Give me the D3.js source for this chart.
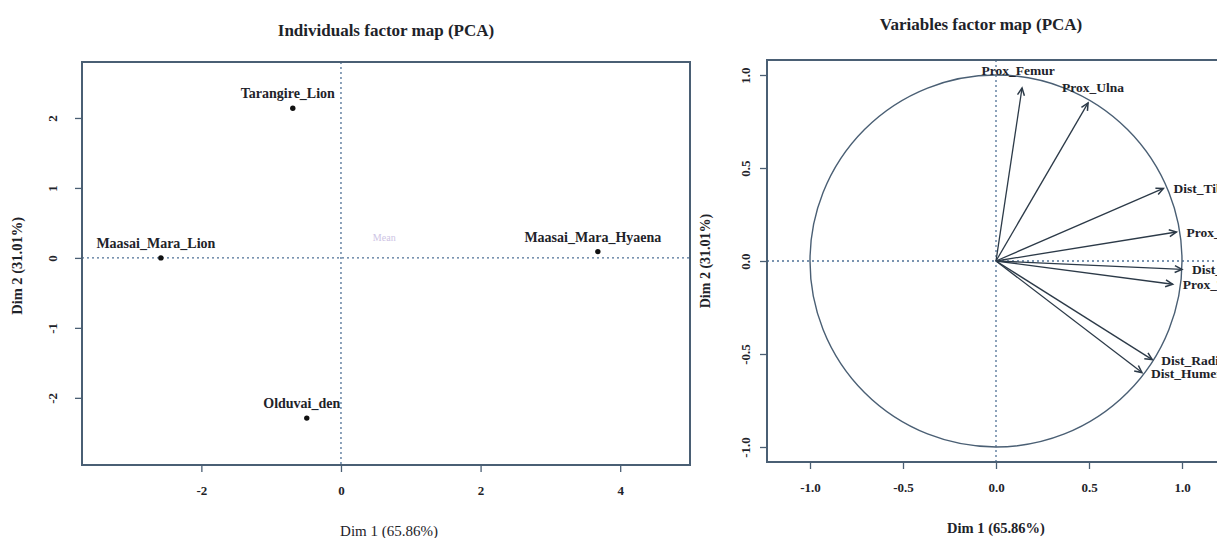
<!DOCTYPE html>
<html>
<head>
<meta charset="utf-8">
<script src="https://cdn.jsdelivr.net/npm/d3@7"></script>
<style>
  body { margin: 0; background: #fff; }
  svg { display: block; font-family: "Liberation Serif", "DejaVu Serif", serif; }
  .tick line { stroke: #4a5f74; stroke-width: 1.3; }
</style>
</head>
<body>
<svg id="chart" width="1217" height="538"></svg>
<script>
// Individuals (PCA coordinates)
const individuals = ['Tarangire_Lion', 'Maasai_Mara_Lion', 'Maasai_Mara_Hyaena', 'Olduvai_den'];
const indDim1 = [-0.69, -2.58, 3.68, -0.49];
const indDim2 = [2.14, 0.0, 0.09, -2.29];

// Variables (correlations with dims)
const variables = ['Prox_Femur', 'Prox_Ulna', 'Dist_Tibia', 'Prox_Radius', 'Dist_Femur', 'Prox_Tibia', 'Dist_Radius', 'Dist_Humerus'];
const varDim1 = [0.14, 0.495, 0.90, 0.97, 1.00, 0.95, 0.84, 0.785];
const varDim2 = [0.93, 0.85, 0.39, 0.156, -0.045, -0.125, -0.53, -0.60];

const indTicksX = [-2, 0, 2, 4];
const indTicksY = [-2, -1, 0, 1, 2];
const varTicks = [-1.0, -0.5, 0.0, 0.5, 1.0];

const dimLabel1 = 'Dim 1 (65.86%)';
const dimLabel2 = 'Dim 2 (31.01%)';

const lineCol = '#4a5f74';
const textCol = '#1e2329';
const serif = '"Liberation Serif", "DejaVu Serif", serif';

const svg = d3.select('#chart');

// style tick labels (d3 sets sans-serif on the axis group)
function styleAxis(sel) {
    sel.attr('font-family', serif).attr('font-size', 13);
    sel.select('.domain').remove();
    sel.selectAll('.tick text').attr('fill', textCol).attr('font-weight', 'bold');
}

// ---------- Individuals factor map ----------
function drawIndividuals() {
    const box = { left: 82, right: 690, top: 62, bottom: 465 };
    const x = d3.scaleLinear().domain([-3.71, 5.0]).range([box.left, box.right]);
    const y = d3.scaleLinear().domain([-2.96, 2.8]).range([box.bottom, box.top]);
    const g = svg.append('g');

    // dotted axes through origin
    g.append('line')
        .attr('x1', box.left).attr('x2', box.right)
        .attr('y1', y(0)).attr('y2', y(0))
        .attr('stroke', '#4f7196').attr('stroke-width', 1.3).attr('stroke-dasharray', '2,3');
    g.append('line')
        .attr('x1', x(0)).attr('x2', x(0))
        .attr('y1', box.top).attr('y2', box.bottom)
        .attr('stroke', '#4f7196').attr('stroke-width', 1.3).attr('stroke-dasharray', '2,3');

    // faint supplementary label
    g.append('text')
        .attr('x', x(0.62)).attr('y', y(0.24))
        .attr('text-anchor', 'middle')
        .attr('font-size', 10).attr('fill', '#cdc4e4')
        .text('Mean');

    const idx = d3.range(individuals.length);
    g.selectAll('circle.ind')
        .data(idx)
        .enter().append('circle')
        .attr('class', 'ind')
        .attr('cx', i => x(indDim1[i]))
        .attr('cy', i => y(indDim2[i]))
        .attr('r', 2.7)
        .attr('fill', '#111');

    g.selectAll('text.ind')
        .data(idx)
        .enter().append('text')
        .attr('class', 'ind')
        .attr('x', i => x(indDim1[i]) - 5)
        .attr('y', i => y(indDim2[i]) - 10)
        .attr('text-anchor', 'middle')
        .attr('font-size', 14)
        .attr('font-weight', 'bold')
        .attr('fill', textCol)
        .text(i => individuals[i]);

    // box
    g.append('rect')
        .attr('x', box.left).attr('y', box.top)
        .attr('width', box.right - box.left).attr('height', box.bottom - box.top)
        .attr('fill', 'none').attr('stroke', lineCol).attr('stroke-width', 2);

    // axes
    g.append('g')
        .attr('transform', `translate(0,${box.bottom})`)
        .call(d3.axisBottom(x).tickValues(indTicksX).tickSize(7).tickPadding(14)
            .tickFormat(d => String(d).replace('\u2212', '-')))
        .call(styleAxis);

    const ay = g.append('g')
        .attr('transform', `translate(${box.left},0)`)
        .call(d3.axisLeft(y).tickValues(indTicksY).tickSize(7).tickPadding(0)
            .tickFormat(d => String(d).replace('\u2212', '-')))
        .call(styleAxis);
    ay.selectAll('.tick text')
        .attr('transform', 'translate(-30,0) rotate(-90)')
        .attr('x', 0).attr('dy', '0.35em')
        .attr('text-anchor', 'middle');

    // titles
    g.append('text')
        .attr('x', (box.left + box.right) / 2).attr('y', 36)
        .attr('text-anchor', 'middle').attr('font-size', 17).attr('font-weight', 'bold')
        .attr('fill', textCol)
        .text('Individuals factor map (PCA)');
    g.append('text')
        .attr('x', 389).attr('y', 536)
        .attr('text-anchor', 'middle').attr('font-size', 15).attr('fill', textCol)
        .text(dimLabel1);
    g.append('text')
        .attr('transform', `translate(22,${y(0) + 8}) rotate(-90)`)
        .attr('text-anchor', 'middle').attr('font-size', 14.5).attr('font-weight', 'bold')
        .attr('fill', textCol)
        .text(dimLabel2);
}

// ---------- Variables factor map ----------
function drawVariables() {
    const box = { left: 767, right: 1240, top: 60, bottom: 462 };
    const unit = 186;
    const cx = 996, cy = 261;
    const x = d3.scaleLinear().domain([(box.left - cx) / unit, (box.right - cx) / unit]).range([box.left, box.right]);
    const y = d3.scaleLinear().domain([(cy - box.bottom) / unit, (cy - box.top) / unit]).range([box.bottom, box.top]);
    const g = svg.append('g');

    g.append('line')
        .attr('x1', box.left).attr('x2', box.right)
        .attr('y1', y(0)).attr('y2', y(0))
        .attr('stroke', '#4f7196').attr('stroke-width', 1.3).attr('stroke-dasharray', '2,3');
    g.append('line')
        .attr('x1', x(0)).attr('x2', x(0))
        .attr('y1', box.top).attr('y2', box.bottom)
        .attr('stroke', '#4f7196').attr('stroke-width', 1.3).attr('stroke-dasharray', '2,3');

    // correlation circle
    g.append('circle')
        .attr('cx', x(0)).attr('cy', y(0))
        .attr('r', x(1) - x(0))
        .attr('fill', 'none').attr('stroke', lineCol).attr('stroke-width', 1.4);

    const idx = d3.range(variables.length);
    const arrows = g.selectAll('g.arrow')
        .data(idx)
        .enter().append('g')
        .attr('class', 'arrow');

    arrows.append('line')
        .attr('x1', x(0)).attr('y1', y(0))
        .attr('x2', i => x(varDim1[i])).attr('y2', i => y(varDim2[i]))
        .attr('stroke', '#2c3a48').attr('stroke-width', 1.3);

    // arrow heads (open, like R arrows())
    arrows.append('path')
        .attr('d', i => {
            const x2 = x(varDim1[i]), y2 = y(varDim2[i]);
            const a = Math.atan2(y2 - y(0), x2 - x(0));
            const len = 8, spread = Math.PI / 7;
            const p1 = [x2 - len * Math.cos(a - spread), y2 - len * Math.sin(a - spread)];
            const p2 = [x2 - len * Math.cos(a + spread), y2 - len * Math.sin(a + spread)];
            return `M${p1[0]},${p1[1]}L${x2},${y2}L${p2[0]},${p2[1]}`;
        })
        .attr('fill', 'none').attr('stroke', '#2c3a48').attr('stroke-width', 1.5);

    // label placement: upper arrows centred above tip, others to the right
    arrows.append('text')
        .attr('x', i => {
            const tx = x(varDim1[i]);
            if (varDim2[i] > 0.8) return tx - (i === 0 ? 4 : -5);
            if (varDim2[i] < -0.4) return tx + 9;
            return tx + 10;
        })
        .attr('y', i => {
            const ty = y(varDim2[i]);
            if (varDim2[i] > 0.8) return ty - (i === 0 ? 13 : 11);
            return ty + 5;
        })
        .attr('text-anchor', i => varDim2[i] > 0.8 ? 'middle' : 'start')
        .attr('font-size', 13.5)
        .attr('font-weight', 'bold')
        .attr('fill', textCol)
        .text(i => variables[i]);

    g.append('rect')
        .attr('x', box.left).attr('y', box.top)
        .attr('width', box.right - box.left).attr('height', box.bottom - box.top)
        .attr('fill', 'none').attr('stroke', lineCol).attr('stroke-width', 2);

    const fmt = d => d3.format('.1f')(d).replace('\u2212', '-');
    g.append('g')
        .attr('transform', `translate(0,${box.bottom})`)
        .call(d3.axisBottom(x).tickValues(varTicks).tickSize(7).tickPadding(14).tickFormat(fmt))
        .call(styleAxis);

    const ay = g.append('g')
        .attr('transform', `translate(${box.left},0)`)
        .call(d3.axisLeft(y).tickValues(varTicks).tickSize(7).tickPadding(0).tickFormat(fmt))
        .call(styleAxis);
    ay.selectAll('.tick text')
        .attr('transform', 'translate(-22,0) rotate(-90)')
        .attr('x', 0).attr('dy', '0.35em')
        .attr('text-anchor', 'middle');

    g.append('text')
        .attr('x', 981).attr('y', 30)
        .attr('text-anchor', 'middle').attr('font-size', 17).attr('font-weight', 'bold')
        .attr('fill', textCol)
        .text('Variables factor map (PCA)');
    g.append('text')
        .attr('x', x(0)).attr('y', 533)
        .attr('text-anchor', 'middle').attr('font-size', 14.5).attr('font-weight', 'bold')
        .attr('fill', textCol)
        .text(dimLabel1);
    g.append('text')
        .attr('transform', `translate(710,${y(0)}) rotate(-90)`)
        .attr('text-anchor', 'middle').attr('font-size', 14).attr('font-weight', 'bold')
        .attr('fill', textCol)
        .text(dimLabel2);
}

drawIndividuals();
drawVariables();
</script>
</body>
</html>
